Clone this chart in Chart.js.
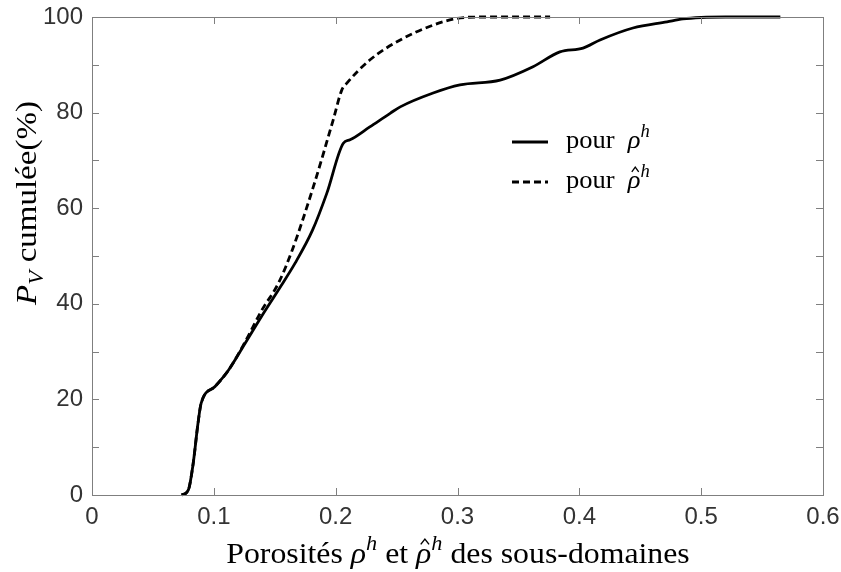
<!DOCTYPE html>
<html><head><meta charset="utf-8">
<script src="https://cdn.jsdelivr.net/npm/chart.js@4.4.1/dist/chart.umd.min.js"></script>
<style>html,body{margin:0;padding:0;background:#fff;}canvas{display:block;}</style>
</head><body>
<canvas id="c" width="841" height="572"></canvas>
<script>
// ---- data ----
const rhoX = [0.0736,0.079,0.083,0.087,0.0896,0.101,0.112,0.1256,0.139,0.153,0.1667,0.181,0.1927,0.2063,0.2118,0.228,0.245,0.253,0.28,0.302,0.335,0.362,0.384,0.403,0.417,0.444,0.472,0.485,0.5,0.52,0.565];
const rhoY = [0,1,6.5,15,19.2,22.7,26.1,31.7,37.3,42.9,48.5,55.4,63.1,73.6,74.3,77.0,79.9,81.2,84.1,85.8,86.8,89.6,92.7,93.5,95.2,97.7,99.0,99.6,99.9,100,100];
const rhoHatX = [0.0736,0.079,0.083,0.087,0.0896,0.101,0.112,0.1256,0.139,0.153,0.164,0.1817,0.198,0.205,0.209,0.228,0.253,0.28,0.2995,0.32,0.376];
const rhoHatY = [0,1,6.5,15,19.2,22.7,26.1,32,38.5,44.3,51,64.5,78.5,84.7,86.1,91.0,95.2,98.3,99.7,100,100];
const xTicks = [0,0.1,0.2,0.3,0.4,0.5,0.6];
const yTicks = [0,20,40,60,80,100];

const toPts = (xs, ys) => xs.map((x, i) => ({x: x, y: ys[i]}));

const SERIF = '"Liberation Serif", "DejaVu Serif", serif';

function drawRich(ctx, parts, x, y, size, align, hs) {
  hs = hs || 1;
  const fontFor = p => {
    const s = (p.sup || p.sub) ? size * 0.7 : size;
    return (p.it ? 'italic ' : '') + s + 'px ' + SERIF;
  };
  let total = 0;
  const widths = parts.map(p => { ctx.font = fontFor(p); const w = ctx.measureText(p.t).width; total += w; return w; });
  ctx.save();
  ctx.translate(x, y);
  ctx.scale(hs, 1);
  let cx = align === 'center' ? -total / 2 : 0;
  ctx.textBaseline = 'alphabetic';
  ctx.textAlign = 'left';
  parts.forEach((p, i) => {
    ctx.font = fontFor(p);
    let dy = 0;
    if (p.sup) dy = -size * 0.42;
    if (p.sub) dy = size * 0.22;
    ctx.fillText(p.t, cx, dy);
    if (p.hat) {
      const mx = cx + widths[i] * 0.58;
      const top = -size * 0.8, bot = -size * 0.62;
      ctx.save();
      ctx.lineWidth = 1.3;
      ctx.beginPath();
      ctx.moveTo(mx - size * 0.13, bot);
      ctx.lineTo(mx, top);
      ctx.lineTo(mx + size * 0.13, bot);
      ctx.stroke();
      ctx.restore();
    }
    cx += widths[i];
  });
  ctx.restore();
}

const decor = {
  id: 'decor',
  afterDraw(chart) {
    const ctx = chart.ctx;
    const a = chart.chartArea;
    const xs = chart.scales.x, ys = chart.scales.y;
    ctx.save();
    // frame
    ctx.strokeStyle = '#7f7f7f';
    ctx.lineWidth = 1;
    ctx.strokeRect(Math.round(a.left) + 0.5, Math.round(a.top) + 0.5, Math.round(a.right - a.left), Math.round(a.bottom - a.top));
    // inward ticks
    ctx.beginPath();
    ys.ticks.forEach(t => {
      const py = Math.round(ys.getPixelForValue(t.value)) + 0.5;
      ctx.moveTo(a.left, py); ctx.lineTo(a.left + 7, py);
      ctx.moveTo(a.right, py); ctx.lineTo(a.right - 7, py);
    });
    xs.ticks.forEach(t => {
      const px = Math.round(xs.getPixelForValue(t.value)) + 0.5;
      ctx.moveTo(px, a.bottom); ctx.lineTo(px, a.bottom - 7);
      ctx.moveTo(px, a.top); ctx.lineTo(px, a.top + 7);
    });
    ctx.stroke();

    ctx.fillStyle = '#000';
    ctx.strokeStyle = '#000';
    // x title
    drawRich(ctx, [
      {t: 'Porosités '}, {t: 'ρ', it: true}, {t: 'h', it: true, sup: true},
      {t: ' et '}, {t: 'ρ', it: true, hat: true}, {t: 'h', it: true, sup: true},
      {t: ' des sous-domaines'}
    ], 458, 563, 30, 'center', 1.06);
    // y title
    ctx.save();
    ctx.translate(36, 203);
    ctx.rotate(-Math.PI / 2);
    drawRich(ctx, [
      {t: 'P', it: true}, {t: 'V', it: true, sub: true}, {t: ' cumulée(%)'}
    ], 0, 0, 30, 'center', 1.1);
    ctx.restore();

    // legend
    const lx0 = 512, lx1 = 548;
    ctx.lineWidth = 3;
    ctx.beginPath(); ctx.moveTo(lx0, 142); ctx.lineTo(lx1, 142); ctx.stroke();
    ctx.setLineDash([7, 4]);
    ctx.beginPath(); ctx.moveTo(lx0, 182); ctx.lineTo(lx1, 182); ctx.stroke();
    ctx.setLineDash([]);
    drawRich(ctx, [{t: 'pour  '}, {t: 'ρ', it: true}, {t: 'h', it: true, sup: true}], 566, 148, 26, 'left', 1.02);
    drawRich(ctx, [{t: 'pour  '}, {t: 'ρ', it: true, hat: true}, {t: 'h', it: true, sup: true}], 566, 188, 26, 'left', 1.02);
    ctx.restore();
  }
};

const noPad = s => { s.paddingTop = 0; s.paddingBottom = 0; s.paddingLeft = 0; s.paddingRight = 0; };

new Chart(document.getElementById('c'), {
  type: 'line',
  data: {
    datasets: [
      {label: 'pour ρh', data: toPts(rhoX, rhoY), borderColor: '#000', borderWidth: 2.8, pointRadius: 0, fill: false, cubicInterpolationMode: 'monotone', clip: false},
      {label: 'pour ρ̂h', data: toPts(rhoHatX, rhoHatY), borderColor: '#000', borderWidth: 2.8, borderDash: [7, 4], pointRadius: 0, fill: false, cubicInterpolationMode: 'monotone', clip: false}
    ]
  },
  options: {
    responsive: false,
    animation: false,
    devicePixelRatio: 1,
    layout: {padding: {top: 17, right: 18, left: 0, bottom: 0}},
    plugins: {legend: {display: false}, tooltip: {enabled: false}},
    scales: {
      x: {
        type: 'linear', min: 0, max: 0.6,
        afterFit: s => { s.height = 77; noPad(s); },
        afterBuildTicks: s => { s.ticks = xTicks.map(v => ({value: v})); },
        grid: {display: false, drawTicks: false},
        border: {display: false},
        ticks: {
          padding: 8, color: '#333', maxRotation: 0,
          font: {family: '"Liberation Sans", Arial, sans-serif', size: 24},
          callback: v => (v === 0 ? '0' : Number(v.toFixed(1)).toString())
        }
      },
      y: {
        type: 'linear', min: 0, max: 100,
        afterFit: s => { s.width = 92; noPad(s); },
        afterBuildTicks: s => {
          const t = [];
          for (let v = 0; v <= 100; v += 10) t.push({value: v});
          s.ticks = t;
        },
        grid: {display: false, drawTicks: false},
        border: {display: false},
        ticks: {
          padding: 9, color: '#333',
          font: {family: '"Liberation Sans", Arial, sans-serif', size: 24},
          callback: v => (yTicks.includes(v) ? String(v) : '')
        }
      }
    }
  },
  plugins: [decor]
});
</script>
</body></html>
